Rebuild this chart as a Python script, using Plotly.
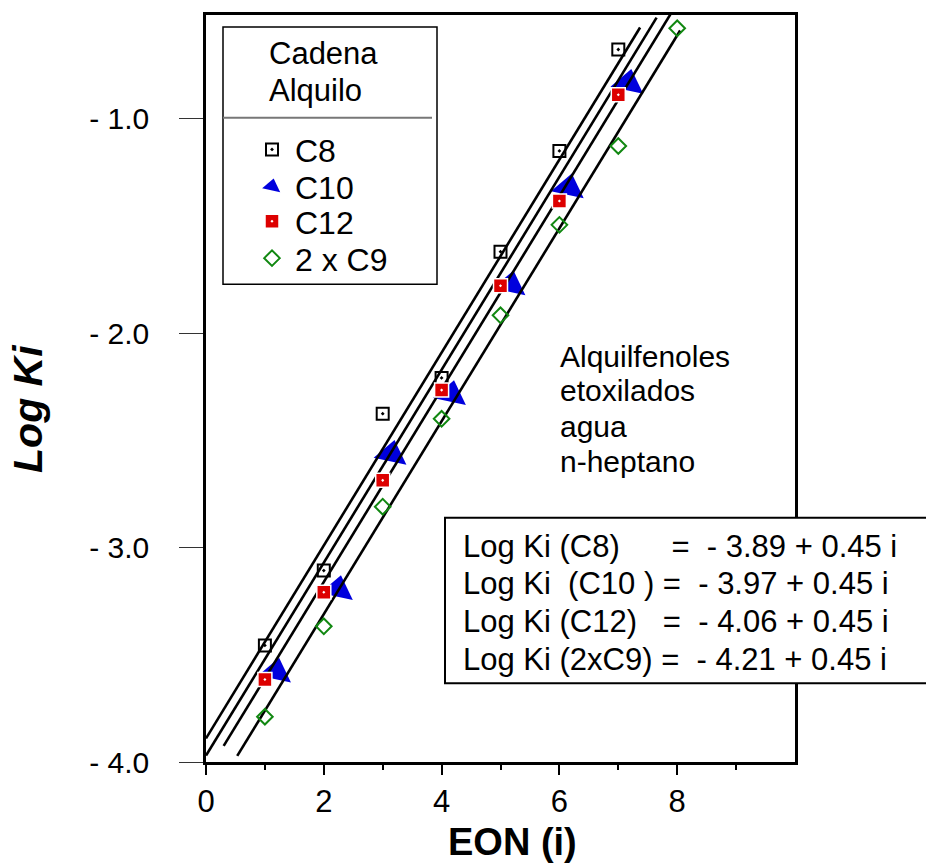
import plotly.graph_objects as go

# ---------------- data ----------------
eon = [1, 2, 3, 4, 5, 6, 7]
eon_c9 = [1, 2, 3, 4, 5, 6, 7, 8]
eon_c10 = [1.19, 2.24, 3.15, 4.16, 5.17, 6.16, 7.17]  # markers drawn slightly right

logk_c8 = [-3.456, -3.107, -2.375, -2.208, -1.619, -1.149, -0.676]
logk_c10 = [-3.58, -3.195, -2.564, -2.285, -1.773, -1.321, -0.833]
logk_c12 = [-3.615, -3.208, -2.686, -2.265, -1.778, -1.383, -0.887]
logk_c9 = [-3.789, -3.367, -2.809, -2.399, -1.916, -1.494, -1.126, -0.577]

series_names = ["C8", "C10", "C12", "2 x C9"]
intercepts = [-3.89, -3.97, -4.06, -4.21]
slope = 0.45
line_x_start = [0.0, 0.0, 0.3, 0.53]
line_x_end = [7.37, 7.65, 7.93, 8.05]

y_tickvals = [-1, -2, -3, -4]
y_ticktext = ["- 1.0", "- 2.0", "- 3.0", "- 4.0"]
x_tickvals = [0, 2, 4, 6, 8]
x_minor = [1, 3, 5, 7, 9]

equations = [
    "Log Ki (C8)\u00a0\u00a0\u00a0\u00a0\u00a0 =\u00a0 - 3.89 + 0.45 i",
    "Log Ki\u00a0 (C10 ) =\u00a0 - 3.97 + 0.45 i",
    "Log Ki (C12)\u00a0\u00a0 =\u00a0 - 4.06 + 0.45 i",
    "Log Ki (2xC9) =\u00a0 - 4.21 + 0.45 i",
]
note_lines = ["Alquilfenoles", "etoxilados", "agua", "n-heptano"]
legend_title = ["Cadena", "Alquilo"]

# ---------------- geometry helpers ----------------
W, H = 926, 863
L, R, T, B = 206, 131, 13, 101
PW, PH = W - L - R, H - T - B


def px_x(p):
    return (p - L) / PW


def px_y(p):
    return (H - B - p) / PH


FONT = "Arial, Liberation Sans, sans-serif"

fig = go.Figure()

# C10 markers (under the lines)
fig.add_trace(go.Scatter(
    x=eon_c10, y=logk_c10, mode="markers", name=series_names[1], legend="legend2",
    marker=dict(symbol="triangle-up", size=29, angle=12, color="#0000DD",
                line=dict(width=0))))

# regression lines
for a, x0, x1 in zip(intercepts, line_x_start, line_x_end):
    fig.add_trace(go.Scatter(
        x=[x0, x1], y=[a + slope * x0, a + slope * x1], mode="lines",
        line=dict(color="black", width=2.6), showlegend=False, hoverinfo="skip"))

fig.add_trace(go.Scatter(
    x=eon, y=logk_c8, mode="markers", name=series_names[0], legend="legend",
    marker=dict(symbol="square-open-dot", size=12, color="black",
                line=dict(width=2, color="black"))))
fig.add_trace(go.Scatter(
    x=eon, y=logk_c12, mode="markers", name=series_names[2], legend="legend3",
    marker=dict(symbol="square-dot", size=14, color="#DD0000",
                line=dict(width=1.5, color="white"))))
fig.add_trace(go.Scatter(
    x=eon_c9, y=logk_c9, mode="markers", name=series_names[3], legend="legend4",
    marker=dict(symbol="diamond-open", size=12, color="#118811",
                line=dict(width=2, color="#118811"))))

leg_common = dict(xanchor="left", yanchor="middle", bgcolor="rgba(0,0,0,0)",
                  borderwidth=0, itemwidth=36,
                  font=dict(family=FONT, size=32, color="black"))
leg_left = px_x(249)

shapes = [
    dict(type="rect", xref="paper", yref="paper", x0=px_x(223), x1=px_x(437),
         y0=px_y(283), y1=px_y(25), line=dict(color="black", width=1.5)),
    dict(type="line", xref="paper", yref="paper", x0=px_x(223), x1=px_x(432),
         y0=px_y(116), y1=px_y(116), line=dict(color="#777777", width=2)),
    dict(type="rect", xref="paper", yref="paper", x0=px_x(445), x1=px_x(945),
         y0=px_y(683), y1=px_y(517), line=dict(color="black", width=2),
         fillcolor="white", layer="above"),
]


def text_ann(txt, xp, yp, size, **kw):
    d = dict(text=txt, x=px_x(xp), y=px_y(yp), xref="paper", yref="paper",
             xanchor="left", yanchor="middle", align="left", showarrow=False,
             font=dict(family=FONT, size=size, color="black"))
    d.update(kw)
    return d


annotations = []
for txt, yp in zip(legend_title, [52, 89]):
    annotations.append(text_ann(txt, 267, yp, 31))
for txt, yp in zip(note_lines, [355, 390, 426, 461]):
    annotations.append(text_ann(txt, 558, yp, 30))
for txt, yp in zip(equations, [546, 583, 621, 659]):
    annotations.append(text_ann(txt, 461, yp, 31))
annotations.append(text_ann("<b>EON (i)</b>", 512, 842, 38, xanchor="center"))
annotations.append(text_ann("<b><i>Log Ki</i></b>", 28, 408, 41, xanchor="center",
                            textangle=-90))

fig.update_layout(
    width=W, height=H, margin=dict(l=L, r=R, t=T, b=B),
    paper_bgcolor="white", plot_bgcolor="white",
    font=dict(family=FONT, size=30, color="black"),
    showlegend=True,
    legend=dict(x=leg_left, y=px_y(148), **leg_common),
    legend2=dict(x=leg_left, y=px_y(185), **leg_common),
    legend3=dict(x=leg_left, y=px_y(220), **leg_common),
    legend4=dict(x=leg_left, y=px_y(257), **leg_common),
    shapes=shapes, annotations=annotations,
    xaxis=dict(range=[0, 10], tickvals=x_tickvals, ticktext=[str(v) for v in x_tickvals],
               ticks="outside", ticklen=10, tickwidth=2, tickcolor="black",
               minor=dict(tickvals=x_minor, ticks="outside", ticklen=5, tickwidth=1.5,
                          tickcolor="black"),
               showline=True, linewidth=2.5, linecolor="black", mirror=True,
               showgrid=False, zeroline=False, ticklabelstandoff=0,
               tickfont=dict(family=FONT, size=31, color="black")),
    yaxis=dict(range=[-4, -0.515], tickvals=y_tickvals, ticktext=y_ticktext,
               ticks="outside", ticklen=24, tickwidth=1, tickcolor="#333333",
               showline=True, linewidth=2.5, linecolor="black", mirror=True,
               showgrid=False, zeroline=False, ticklabelstandoff=24,
               tickfont=dict(family=FONT, size=30, color="black")),
)

fig.write_html("out.html", config={"displayModeBar": False},
               post_script="document.body.style.margin='0';"
                           "document.body.style.overflow='hidden';")
